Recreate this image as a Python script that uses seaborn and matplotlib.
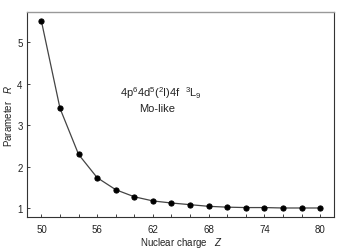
import pandas as pd
import seaborn as sns
from matplotlib import pyplot as plt
from matplotlib import ticker as ticktools

# data
charge = [50, 52, 54, 56, 58, 60, 62, 64, 66, 68, 70, 72, 74, 76, 78, 80]
param_r = [5.51, 3.41, 2.30, 1.74, 1.45, 1.28, 1.18, 1.13, 1.09, 1.05,
           1.03, 1.02, 1.02, 1.01, 1.01, 1.01]
x_ticks = [50, 56, 62, 68, 74, 80]
y_ticks = [1, 2, 3, 4, 5]

df = pd.DataFrame({"Z": charge, "R": param_r})

sns.set_style("white")
plt.rcParams["font.family"] = ["Liberation Sans", "DejaVu Sans"]
plt.rcParams["mathtext.fontset"] = "custom"
plt.rcParams["mathtext.rm"] = "Liberation Sans"
plt.rcParams["mathtext.it"] = "Liberation Sans:italic"

fig = plt.figure(figsize=(3.48, 2.51), dpi=100)
ax = fig.add_axes([0.079, 0.131, 0.881, 0.817])

sns.lineplot(x="Z", y="R", data=df, ax=ax, color="#444444", linewidth=0.9,
             marker="o", markersize=3.7, markerfacecolor="black",
             markeredgecolor="black")

ax.set_xlim(48.5, 81.5)
ax.set_ylim(0.79, 5.73)
ax.set_xticks(x_ticks)
ax.xaxis.set_minor_locator(ticktools.MultipleLocator(2))
ax.set_yticks(y_ticks)
ax.tick_params(axis="both", which="both", direction="in", length=2.5,
               width=0.6, labelsize=7, colors="#222222",
               bottom=True, left=True, top=False, right=False)
ax.tick_params(axis="x", which="both", pad=5)
ax.tick_params(axis="y", which="both", pad=3.5)

for side in ["left", "bottom", "right"]:
    ax.spines[side].set_color("#333333")
    ax.spines[side].set_linewidth(0.8)
ax.spines["top"].set_color("#999999")
ax.spines["top"].set_linewidth(1.0)

ax.set_xlabel(r"Nuclear charge   $Z$", fontsize=7, color="#222222", labelpad=1)
ax.set_ylabel(r"Parameter   $R$", fontsize=7, color="#222222", labelpad=2)

ax.text(62.9, 3.80, r"4p$^6$4d$^5$($^2$I)4f  $^3$L$_9$", fontsize=8,
        ha="center", va="center", color="#222222")
ax.text(62.4, 3.42, "Mo-like", fontsize=8, ha="center", va="center",
        color="#222222")

fig.savefig("out.png", dpi=100)
